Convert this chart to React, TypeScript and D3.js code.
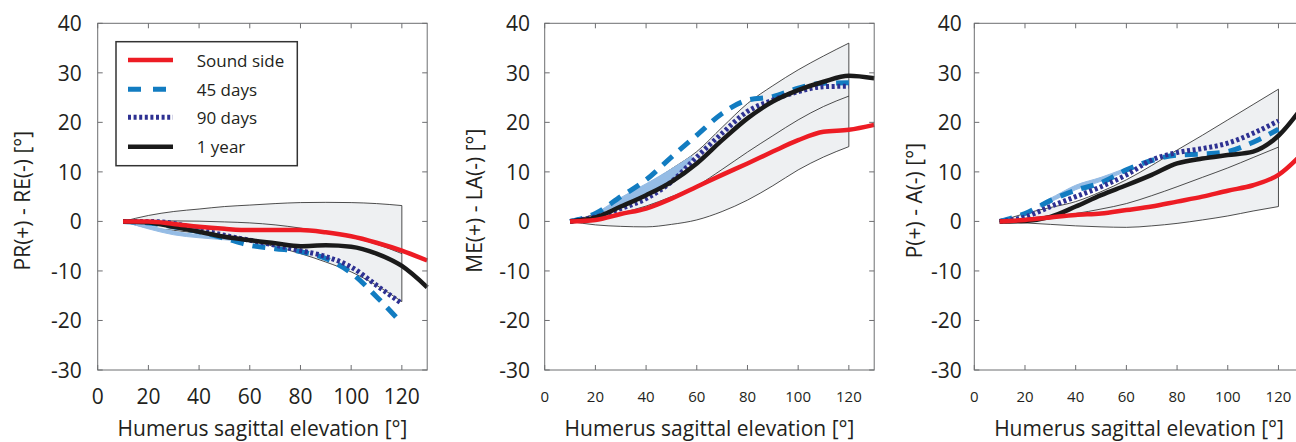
import React from 'react';
import * as d3 from 'd3';

// humerus elevation samples (deg)
const elev = [10, 20, 30, 40, 50, 60, 70, 80, 90, 100, 110, 120, 130];
const bandElev = [10, 20, 30, 40, 50, 60, 70, 80, 90, 100, 110, 120];

const xTicks = [0, 20, 40, 60, 80, 100, 120];
const yTicks = [-30, -20, -10, 0, 10, 20, 30, 40];

const legendLabels = ['Sound side', '45 days', '90 days', '1 year'];
const xTitle = 'Humerus sagittal elevation [°]';
const yTitles = ['PR(+) - RE(-) [°]', 'ME(+) - LA(-) [°]', 'P(+) - A(-) [°]'];

// panel 1: PR / RE
const p1Sound = [0, 0, -0.5, -1.1, -1.5, -1.75, -1.75, -1.75, -2.2, -3, -4.3, -5.9, -7.9];
const p1Days45 = [0, -0.3, -1.1, -2.1, -3.4, -4.8, -5.5, -6.1, -7.5, -10.4, -15.2, -20.6];
const p1Days90 = [0, 0, -0.4, -1.6, -2.8, -3.8, -4.8, -5.9, -7.1, -9.2, -12.9, -16.6];
const p1Year = [0, -0.2, -1.1, -2.1, -3.1, -3.8, -4.4, -5, -4.8, -5.1, -6.5, -9, -13.3];
const p1BandUp = [0, 1.2, 2.0, 2.5, 3.0, 3.3, 3.6, 3.8, 3.85, 3.8, 3.6, 3.2];
const p1BandLo = [0, -1.3, -1.8, -2.4, -3.1, -3.9, -5.1, -6.5, -8.2, -10.2, -12.9, -16.2];
const p1BandMean = [0, 0, 0.1, 0.05, -0.1, -0.3, -0.7, -1.35, -2.2, -3.2, -4.6, -6.5];
const p1LightX = [10, 20, 30, 40, 50, 55];
const p1LightUp = [0, -0.9, -2.0, -2.7, -3.2, -3.6];
const p1LightLo = [0, -1.5, -2.7, -3.3, -3.7, -3.9];

// panel 2: ME / LA
const p2Sound = [0, 0.3, 1.5, 2.6, 4.6, 7, 9.4, 11.7, 14.1, 16.4, 18.1, 18.5, 19.5];
const p2Days45 = [0, 1.6, 5, 8.4, 13, 17.4, 21.8, 24.5, 25.2, 26.9, 27.9, 28];
const p2Days90 = [0, 0.9, 2.6, 4.6, 8, 13, 17.8, 22.2, 24.5, 26.2, 27.2, 27.3];
const p2Year = [0, 0.8, 3, 5.3, 8, 11.7, 16.4, 20.8, 24.2, 26.5, 28.2, 29.4, 28.9];
const p2BandUp = [0, 1.6, 4.3, 7.3, 10.6, 14.1, 19, 23.8, 27.4, 30.6, 33.4, 36];
const p2BandLo = [0, -0.7, -1.0, -1.1, -0.6, 0.3, 2.0, 4.3, 7.2, 10.4, 13.0, 15.1];
const p2BandMean = [0, 0.5, 1.7, 3.1, 5.0, 7.2, 10.5, 14, 17.3, 20.5, 23.2, 25.3];
const p2LightX = [22, 30, 40, 50, 58];
const p2LightUp = [2.2, 4.8, 7.6, 10.6, 13.2];
const p2LightLo = [1.8, 3.4, 5.6, 8.4, 12.4];

// panel 3: P / A
const p3Sound = [0, 0.3, 0.8, 1.3, 1.6, 2.3, 3, 4, 5, 6.2, 7.3, 9.4, 14];
const p3Days45 = [0, 1.6, 4.2, 6.3, 7.8, 10.4, 12.3, 13.4, 13.6, 14.1, 16, 18.6];
const p3Days90 = [0, 0.9, 3, 5, 7, 9.4, 12.4, 13.9, 14.7, 15.8, 17.8, 20.3];
const p3Year = [0, 0.1, 0.9, 3, 5.3, 7.3, 9.4, 11.7, 12.7, 13.4, 14.1, 17.3, 23.5];
const p3BandUp = [0, 1.6, 2.8, 4.0, 6.0, 8.4, 11.3, 14.4, 17.4, 20.5, 23.6, 26.7];
const p3BandLo = [0, -0.3, -0.6, -0.9, -1.1, -1.2, -0.9, -0.4, 0.3, 1.1, 2.1, 3.0];
const p3BandMean = [0, 0.6, 1.1, 1.6, 2.5, 3.6, 5.2, 7.0, 8.9, 10.8, 12.9, 15.0];
const p3LightX = [26, 32, 40, 50, 58];
const p3LightUp = [3.6, 5.2, 7.3, 8.9, 10.4];
const p3LightLo = [3.0, 4.4, 6.4, 8.1, 9.7];

const RED = '#ed1c24';
const BLUE = '#127cc1';
const NAVY = '#2e3192';
const BLACK = '#1a1a1a';
const LIGHT = '#95bce5';

const FONT = '"Open Sans", sans-serif';

const panels = [
  { left: 97.7, yTitleX: 22, yLabGap: 16, xLabSize: 21, sound: p1Sound, d45: p1Days45, d90: p1Days90, year: p1Year,
    up: p1BandUp, lo: p1BandLo, mean: p1BandMean, lx: p1LightX, lu: p1LightUp, ll: p1LightLo },
  { left: 544.7, yTitleX: 474, yLabGap: 14.7, xLabSize: 15, sound: p2Sound, d45: p2Days45, d90: p2Days90, year: p2Year,
    up: p2BandUp, lo: p2BandLo, mean: p2BandMean, lx: p2LightX, lu: p2LightUp, ll: p2LightLo },
  { left: 974.3, yTitleX: 914, yLabGap: 12.6, xLabSize: 15, sound: p3Sound, d45: p3Days45, d90: p3Days90, year: p3Year,
    up: p3BandUp, lo: p3BandLo, mean: p3BandMean, lx: p3LightX, lu: p3LightUp, ll: p3LightLo },
];

const seriesStyle = [
  { color: RED, width: 4.5, dash: null },
  { color: BLUE, width: 5, dash: '13,9' },
  { color: NAVY, width: 5, dash: '3,2.6' },
  { color: BLACK, width: 4.5, dash: null },
];

const top = 23.3;
const bottom = 370;
const plotW = 329.5;

const Panel = ({ p }: { p: any }) => {
  const x = d3.scaleLinear().domain([0, 130]).range([p.left, p.left + plotW]);
  const y = d3.scaleLinear().domain([-30, 40]).range([bottom, top]);

  const line = d3.line<number>()
    .x((_, i) => x(elev[i]))
    .y((d) => y(d))
    .curve(d3.curveMonotoneX);

  const bandArea = d3.area<number>()
    .x((_, i) => x(bandElev[i]))
    .y0((_, i) => y(p.lo[i]))
    .y1((d) => y(d))
    .curve(d3.curveMonotoneX);

  const meanLine = d3.line<number>()
    .x((_, i) => x(bandElev[i]))
    .y((d) => y(d))
    .curve(d3.curveMonotoneX);

  const lightArea = d3.area<number>()
    .x((_, i) => x(p.lx[i]))
    .y0((_, i) => y(p.ll[i]))
    .y1((d) => y(d))
    .curve(d3.curveMonotoneX);

  const draw = [p.d45, p.d90, p.year, p.sound];
  const styles = [seriesStyle[1], seriesStyle[2], seriesStyle[3], seriesStyle[0]];
  const cx = p.left + plotW / 2;
  const cy = (top + bottom) / 2;

  return (
    <g>
      {/* normative band */}
      <path d={bandArea(p.up) || ''} fill="#eef0f2" stroke="#222" strokeWidth={0.8} />
      <path d={meanLine(p.mean) || ''} fill="none" stroke="#222" strokeWidth={0.8} />
      <path d={lightArea(p.lu) || ''} fill={LIGHT} stroke={LIGHT} strokeWidth={1} />
      {draw.map((vals: number[], k: number) => (
        <path key={k} d={line(vals) || ''} fill="none" stroke={styles[k].color}
          strokeWidth={styles[k].width} strokeDasharray={styles[k].dash || undefined} />
      ))}

      {/* axes box */}
      <rect x={p.left} y={top} width={plotW} height={bottom - top} fill="none" stroke="#6d6e71" strokeWidth={1} />
      {xTicks.map((t) => (
        <g key={'x' + t}>
          <line x1={x(t)} x2={x(t)} y1={bottom} y2={bottom - 5} stroke="#6d6e71" />
          <line x1={x(t)} x2={x(t)} y1={top} y2={top + 5} stroke="#6d6e71" />
          <text x={x(t)} y={396} textAnchor="middle" dominantBaseline="central"
            fontSize={p.xLabSize} fontFamily={FONT} fill="#231f20">{t}</text>
        </g>
      ))}
      {yTicks.map((t) => (
        <g key={'y' + t}>
          <line x1={p.left} x2={p.left + 5} y1={y(t)} y2={y(t)} stroke="#6d6e71" />
          <line x1={p.left + plotW} x2={p.left + plotW - 5} y1={y(t)} y2={y(t)} stroke="#6d6e71" />
          <text x={p.left - p.yLabGap} y={y(t)} textAnchor="end" dominantBaseline="central"
            fontSize={21} fontFamily={FONT} fill="#231f20">{t}</text>
        </g>
      ))}
      <text x={cx} y={435.5} textAnchor="middle" fontSize={21} fontFamily={FONT} fill="#231f20">{xTitle}</text>
      <text transform={`translate(${p.yTitleX},${cy + 4}) rotate(-90)`} textAnchor="middle" dominantBaseline="central"
        fontSize={21} fontFamily={FONT} fill="#231f20">{p.title}</text>
    </g>
  );
};

const Legend = () => {
  const rows = [60, 89.3, 117.3, 146.7];
  return (
    <g>
      <rect x={116} y={41.7} width={181.3} height={124} fill="#fff" stroke="#333" strokeWidth={1.5} />
      {legendLabels.map((lab, i) => (
        <g key={lab}>
          <line x1={128} x2={173} y1={rows[i]} y2={rows[i]} stroke={seriesStyle[i].color}
            strokeWidth={seriesStyle[i].width} strokeDasharray={i === 1 ? '13,12' : seriesStyle[i].dash || undefined} />
          <text x={196.7} y={rows[i]} dominantBaseline="central" fontSize={17} fontFamily={FONT} fill="#231f20">{lab}</text>
        </g>
      ))}
    </g>
  );
};

export default function App() {
  return (
    <svg width={1296} height={442} style={{ position: 'absolute', left: 0, top: 0, background: '#fff' }}>
      {panels.map((p, i) => (
        <Panel key={i} p={{ ...p, title: yTitles[i] }} />
      ))}
      <Legend />
    </svg>
  );
}
